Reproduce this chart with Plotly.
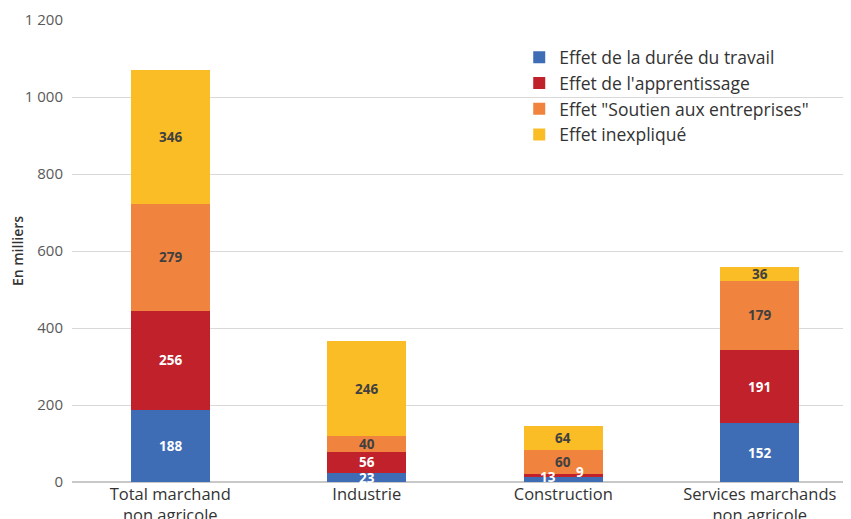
import plotly.graph_objects as go

categories = ["Total marchand<br>non agricole", "Industrie", "Construction", "Services marchands<br>non agricole"]
series_names = ["Effet de la durée du travail", "Effet de l'apprentissage",
                "Effet \"Soutien aux entreprises\"", "Effet inexpliqué"]
duree = [188, 23, 13, 152]
apprentissage = [256, 56, 9, 191]
soutien = [279, 40, 60, 179]
inexplique = [346, 246, 64, 36]
y_ticks = [0, 200, 400, 600, 800, 1000, 1200]

colors = ["#3E6DB5", "#C0212A", "#F0843F", "#FBBD26"]
label_colors = ["white", "white", "#404040", "#404040"]
series = [duree, apprentissage, soutien, inexplique]

fig = go.Figure()
for name, vals, c in zip(series_names, series, colors):
    fig.add_trace(go.Bar(x=categories, y=vals, name=name, marker=dict(color=c, line=dict(width=0)),
                         width=0.4))

# value labels
xshifts = {(2, 0): -15, (2, 1): 17}
yshifts = {(2, 0): 3, (2, 1): 3}
for ci, cat in enumerate(categories):
    base = 0
    for si, vals in enumerate(series):
        v = vals[ci]
        fig.add_annotation(x=cat, y=base + v / 2, text="<b>%d</b>" % v, showarrow=False,
                           font=dict(family="Open Sans", size=13.5, color=label_colors[si]),
                           xshift=xshifts.get((ci, si), 0), yshift=yshifts.get((ci, si), 0))
        base += v

fig.update_layout(
    barmode="stack",
    width=851, height=519,
    margin=dict(l=64, r=1, t=12, b=45),
    plot_bgcolor="white", paper_bgcolor="white",
    separators=", ",
    font=dict(family="Open Sans", color="#404040"),
    legend=dict(x=0.569, y=0.958, xanchor="left", yanchor="top", traceorder="normal",
                font=dict(family="Open Sans", size=17.5, color="#333333", weight=500),
                bgcolor="rgba(255,255,255,0)", itemwidth=30, tracegroupgap=0),
    bargap=0.6,
)
fig.update_xaxes(range=[-0.5, 3.5], showgrid=False, showline=False, ticks="", automargin=False,
                 tickfont=dict(family="Open Sans", size=16.5, color="#333333", weight=500))
fig.update_yaxes(range=[0, 1200], tickvals=y_ticks, tickformat=",d", showgrid=True, gridcolor="#D9D9D9",
                 gridwidth=1, zeroline=True, zerolinecolor="#C8C8C8", zerolinewidth=2, automargin=False,
                 tickfont=dict(family="Open Sans", size=15, color="#595959"), ticklabelstandoff=8,
                 title=dict(text="En milliers", font=dict(family="Open Sans", size=14, color="#333333", weight=600),
                            standoff=8))

fig.write_html("out.html")
